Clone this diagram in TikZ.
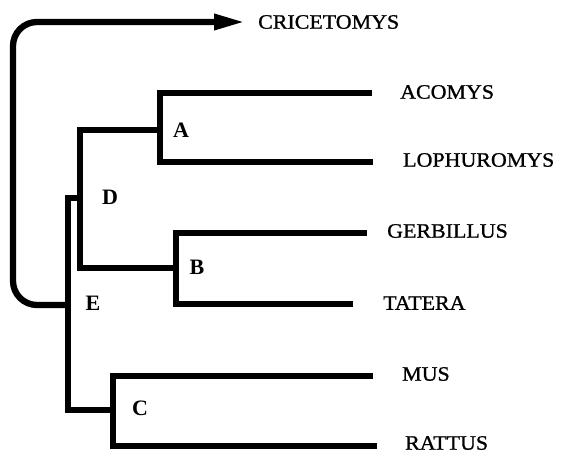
\documentclass[tikz,border=0pt]{standalone}
\usepackage{fontspec}
\setmainfont{Liberation Serif}
\newfontfamily\taxfont[FakeStretch=1.07,FakeBold=1]{Liberation Serif}
\usetikzlibrary{arrows.meta}
\begin{document}
\begin{tikzpicture}[x=1bp,y=-1bp,
  branch/.style={line width=6.3bp, line join=miter},
  taxon/.style={anchor=west, inner sep=0pt,
    font=\taxfont\fontsize{20.5bp}{24bp}\selectfont},
  clade/.style={inner sep=0pt, font=\bfseries\fontsize{22bp}{26bp}\selectfont}]
\useasboundingbox (0,0) rectangle (562,453);

% taxon names
\node[taxon] (cric)   at (258,22)  {CRICETOMYS};
\node[taxon] (acomys) at (400,92)  {ACOMYS};
\node[taxon] (loph)   at (403,160) {LOPHUROMYS};
\node[taxon] (gerb)   at (387,231) {GERBILLUS};
\node[taxon] (tatera) at (383,303) {TATERA};
\node[taxon] (mus)    at (402,374) {MUS};
\node[taxon] (rattus) at (405,443) {RATTUS};

% branch tips, just short of the names
\coordinate (tipCric)   at (245,22);
\coordinate (tipAcomys) at (372,93);
\coordinate (tipLoph)   at (373,162);
\coordinate (tipGerb)   at (367,233);
\coordinate (tipTatera) at (353,304);
\coordinate (tipMus)    at (373,376);
\coordinate (tipRattus) at (377,446);

% internal nodes
\coordinate (aJ) at (160,130);
\coordinate (bJ) at (176,268);
\coordinate (cJ) at (113,410);
\coordinate (dJ) at (80,198);
\coordinate (eJ) at (68,305);

% clade labels
\node[clade] (labA) at (181,130) {A};
\node[clade] (labB) at (197,267) {B};
\node[clade] (labC) at (140,408) {C};
\node[clade] (labD) at (110,197) {D};
\node[clade] (labE) at (93,303)  {E};

% tree
\draw[branch] (tipAcomys) -| (aJ) |- (tipLoph);
\draw[branch] (tipGerb) -| (bJ) |- (tipTatera);
\draw[branch] (tipMus) -| (cJ) |- (tipRattus);
\draw[branch] (aJ) -| (dJ) |- (bJ);
\draw[branch] (dJ) -| (eJ) |- (cJ);

% outgroup arrow
\draw[branch, rounded corners=24bp, -{Triangle[length=31bp,width=15bp]}]
  (eJ) -- (13,305) -- (13,22) -- (tipCric);
\end{tikzpicture}
\end{document}
